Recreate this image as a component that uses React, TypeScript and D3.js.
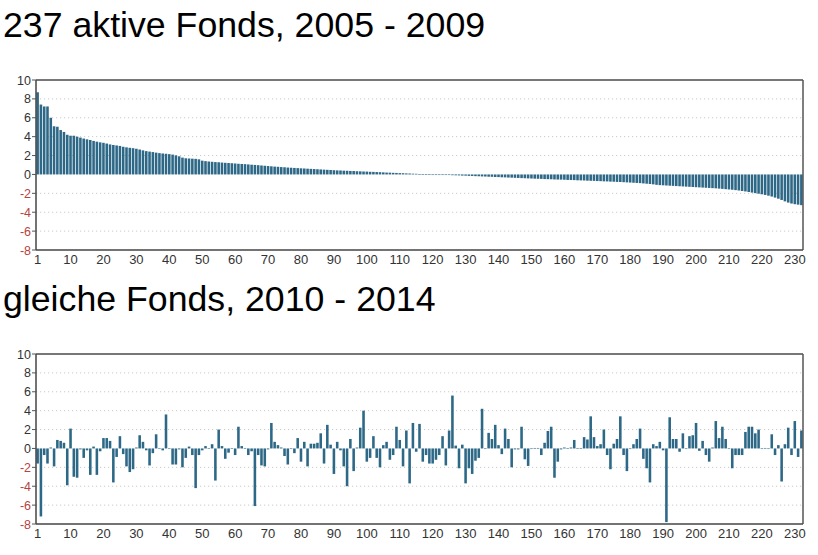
import React from "react";
import * as d3 from "d3";

const titles = ["237 aktive Fonds, 2005 - 2009", "gleiche Fonds, 2010 - 2014"];

const period1Values: number[] = [
  8.7, 7.4, 7.2, 7.2, 6.0, 5.1, 5.05, 4.7, 4.5, 4.2,
  4.1, 4.1, 4.0, 3.9, 3.8, 3.72, 3.65, 3.55, 3.47, 3.4,
  3.35, 3.27, 3.18, 3.12, 3.07, 3.02, 2.93, 2.87, 2.82, 2.78,
  2.72, 2.64, 2.55, 2.47, 2.42, 2.37, 2.31, 2.26, 2.22, 2.19,
  2.15, 2.1, 2.02, 1.92, 1.78, 1.71, 1.69, 1.67, 1.65, 1.6,
  1.46, 1.41, 1.37, 1.34, 1.31, 1.29, 1.26, 1.23, 1.21, 1.19,
  1.16, 1.13, 1.11, 1.09, 1.06, 1.03, 1.01, 0.98, 0.95, 0.92,
  0.89, 0.86, 0.83, 0.81, 0.78, 0.76, 0.73, 0.71, 0.69, 0.67,
  0.65, 0.63, 0.61, 0.59, 0.57, 0.55, 0.53, 0.51, 0.49, 0.47,
  0.45, 0.43, 0.42, 0.4, 0.39, 0.37, 0.36, 0.34, 0.33, 0.31,
  0.3, 0.28, 0.27, 0.25, 0.24, 0.22, 0.2, 0.19, 0.17, 0.16,
  0.14, 0.13, 0.11, 0.1, 0.08, 0.07, 0.05, 0.04, 0.03, 0.01,
  0.0, -0.01, -0.02, -0.04, -0.05, -0.06, -0.08, -0.09, -0.1, -0.12,
  -0.13, -0.15, -0.16, -0.18, -0.19, -0.21, -0.22, -0.24, -0.25, -0.27,
  -0.28, -0.3, -0.31, -0.33, -0.34, -0.36, -0.37, -0.39, -0.4, -0.42,
  -0.43, -0.45, -0.46, -0.47, -0.49, -0.5, -0.51, -0.53, -0.54, -0.55,
  -0.56, -0.58, -0.59, -0.6, -0.62, -0.63, -0.64, -0.66, -0.67, -0.68,
  -0.7, -0.71, -0.73, -0.74, -0.76, -0.77, -0.79, -0.8, -0.82, -0.84,
  -0.86, -0.88, -0.9, -0.92, -0.95, -0.98, -1.01, -1.05, -1.1, -1.13,
  -1.15, -1.17, -1.19, -1.21, -1.23, -1.25, -1.27, -1.29, -1.31, -1.33,
  -1.35, -1.37, -1.39, -1.41, -1.43, -1.45, -1.47, -1.5, -1.53, -1.56,
  -1.59, -1.62, -1.66, -1.7, -1.75, -1.8, -1.86, -1.92, -1.98, -2.04,
  -2.1, -2.17, -2.25, -2.34, -2.45, -2.57, -2.7, -2.85, -2.98, -3.08,
  -3.15, -3.2, -3.25,
];

const period2Values: number[] = [
  -1.6, -7.2, -0.7, -1.6, 0.1, -1.9, 0.9, 0.8, 0.6, -3.9,
  2.1, -3.0, -3.1, -0.1, -1.0, -0.2, -2.8, 0.2, -2.8, -0.3,
  1.1, 1.1, 0.8, -3.6, -0.9, 1.3, -0.6, -1.9, -2.5, -2.2,
  0.1, 1.4, 0.7, -0.2, -1.8, -0.5, 1.5, 0.05, -0.2, 3.6,
  0.0, -1.7, -1.7, -0.1, -2.0, -1.0, 0.2, -0.7, -4.2, -0.7,
  -0.2, 0.25, 0.05, 0.45, -3.4, 2.0, 0.25, -1.1, -0.45, 0.05,
  -0.7, 2.3, 0.25, 0.05, -0.7, -0.3, -6.1, -0.7, -1.8, -1.9,
  -0.1, 2.7, 0.7, 0.35, 0.1, -0.8, -1.7, 0.0, -0.5, 1.1,
  -1.4, 0.7, -1.9, 0.5, 0.5, 0.6, 1.6, -1.6, 2.5, 0.4,
  -2.7, 0.7, -0.2, -1.9, -4.0, 1.0, -2.4, 0.1, 2.2, 4.0,
  -1.4, -1.0, 1.3, -1.0, -2.0, 0.35, 0.7, -1.2, -0.7, 2.3,
  0.9, -1.9, 1.9, -3.7, 2.7, -0.35, 2.6, -1.4, -0.7, -1.6,
  -1.6, -1.2, -0.7, 1.3, -1.8, 1.9, 5.6, 0.3, -2.1, 0.4,
  -3.7, -2.1, -2.7, -1.3, -1.0, 4.2, 0.0, 1.65, 1.0, 2.5,
  0.35, -0.6, 2.1, 1.0, -2.0, -0.1, -0.1, 2.3, -1.15, -1.85,
  -0.05, 0.05, 0.05, -0.7, 0.6, 1.85, 2.3, -3.1, -1.4, -0.1,
  0.1, 0.05, 0.1, 0.9, 0.05, 0.05, 1.2, 0.95, 3.4, 1.2,
  0.25, 0.45, 2.0, -0.7, -2.2, 0.5, 1.0, 3.4, -0.7, -2.4,
  0.0, 0.45, 1.0, 2.1, -1.1, -2.1, -3.6, 0.45, 0.25, 0.7,
  -0.2, -7.8, 3.3, 1.0, 1.0, -0.35, 1.6, 0.0, 1.3, 1.4,
  2.7, -0.25, 0.8, -0.7, -1.4, 0.1, 2.9, 1.1, 2.3, 1.0,
  0.0, -2.1, -0.7, -0.7, -0.7, 1.75, 2.3, 2.3, 1.6, 2.0,
  0.0, 0.05, 0.0, 1.5, -0.7, 0.35, -3.5, 0.45, 2.2, -0.7,
  2.9, -0.9, 1.9,
];

const yTicks = [10, 8, 6, 4, 2, 0, -2, -4, -6, -8];
const xTickIndex = [0, 10, 20, 30, 40, 50, 60, 70, 80, 90, 100, 110, 120, 130, 140, 150, 160, 170, 180, 190, 200, 210, 220, 230];
const xTickLabels = ["1", "10", "20", "30", "40", "50", "60", "70", "80", "90", "100", "110", "120", "130", "140", "150", "160", "170", "180", "190", "200", "210", "220", "230"];

const FONT = "'Liberation Sans', Arial, Helvetica, sans-serif";
const BAR = "#2e6887";

function Panel({ title, values, top }: { title: string; values: number[]; top: number }) {
  const left = 36, right = 803;
  const plotTop = top + 80, plotBottom = top + 250;
  const x = d3.scaleBand<number>().domain(values.map((_, i) => i)).range([left, right]).paddingInner(0.22).paddingOuter(0.1);
  const y = d3.scaleLinear().domain([-8, 10]).range([plotBottom, plotTop]);
  const bw = x.bandwidth();
  return (
    <g>
      <text x={3} y={top + 37} fontFamily={FONT} fontSize={35.7} fill="#000">{title}</text>
      {yTicks.filter((t) => t !== 0 && t !== 10 && t !== -8).map((t) => (
        <line key={"g" + t} x1={left} x2={right} y1={y(t)} y2={y(t)} stroke="#c9c9c9" strokeWidth={1} strokeDasharray="1.2 2.8" />
      ))}
      {values.map((v, i) => (
        <rect key={i} x={x(i)} width={bw} y={y(Math.max(0, v))} height={Math.max(0.6, Math.abs(y(v) - y(0)))} fill={BAR} />
      ))}
      <line x1={left} x2={right} y1={plotTop} y2={plotTop} stroke="#777" strokeWidth={2} />
      <line x1={right} x2={right} y1={plotTop} y2={plotBottom} stroke="#555" strokeWidth={1.5} />
      <line x1={left} x2={right} y1={plotBottom} y2={plotBottom} stroke="#444" strokeWidth={1.5} />
      <line x1={left} x2={left} y1={plotTop} y2={plotBottom} stroke="#444" strokeWidth={1.5} />
      {yTicks.map((t) => (
        <g key={"y" + t}>
          <line x1={left - 4} x2={left} y1={y(t)} y2={y(t)} stroke="#555" strokeWidth={1} />
          <text x={31} y={y(t)} dy="0.36em" textAnchor="end" fontFamily={FONT} fontSize={12.5} fill={t < 0 ? "#b5443f" : "#333"}>{t}</text>
        </g>
      ))}
      {xTickIndex.map((idx, j) => (
        <text key={"x" + idx} x={(x(idx) as number) + bw / 2} y={top + 264} textAnchor="middle" fontFamily={FONT} fontSize={13} fill="#333">{xTickLabels[j]}</text>
      ))}
    </g>
  );
}

export default function App() {
  return (
    <svg width={818} height={555} style={{ position: "absolute", left: 0, top: 0, background: "#fff" }}>
      <rect x={0} y={0} width={818} height={555} fill="#fff" />
      <Panel title={titles[0]} values={period1Values} top={0} />
      <Panel title={titles[1]} values={period2Values} top={274} />
    </svg>
  );
}
